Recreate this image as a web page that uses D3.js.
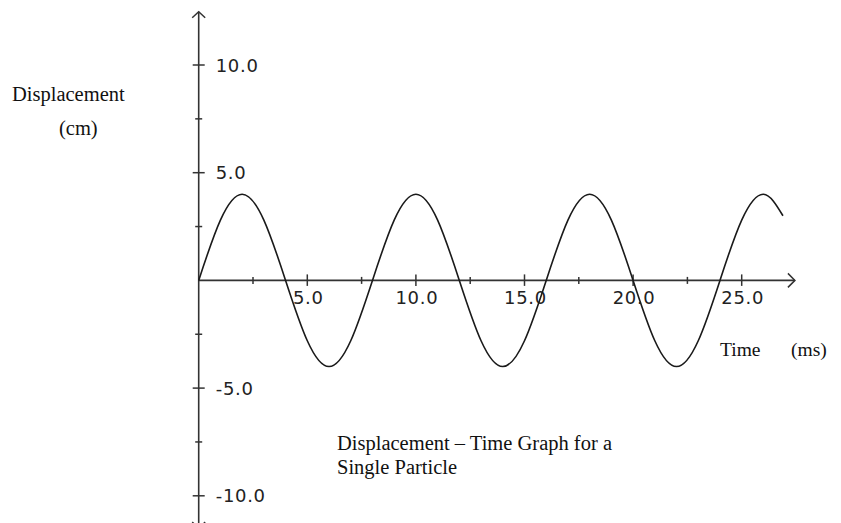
<!DOCTYPE html>
<html>
<head>
<meta charset="utf-8">
<script src="https://cdn.jsdelivr.net/npm/d3@7"></script>
<style>
  body { margin: 0; background: #fff; }
  .tick-label { font-family: "DejaVu Sans", sans-serif; font-size: 18px; letter-spacing: 0.7px; fill: #222; }
  .serif { font-family: "Liberation Serif", "Times New Roman", serif; font-size: 20.5px; fill: #111; }
  .serif.small { font-size: 19.5px; }
</style>
</head>
<body>
<script>
// time (ms) and displacement (cm)
var times = [0, 1, 2, 3, 4, 5, 6, 7, 8, 9, 10, 11, 12, 13, 14, 15, 16, 17, 18, 19, 20, 21, 22, 23, 24, 25, 26, 26.9];
var displacement = [0, 2.8, 4.0, 2.8, 0, -2.8, -4.0, -2.8, 0, 2.8, 4.0, 2.8, 0, -2.8, -4.0, -2.8, 0, 2.8, 4.0, 2.8, 0, -2.8, -4.0, -2.8, 0, 2.8, 4.0, 3.0];

var xMajor = [5, 10, 15, 20, 25];
var xMinor = [2.5, 7.5, 12.5, 17.5, 22.5];
var yMajor = [10, 5, -5, -10];
var yMinor = [7.5, 2.5, -2.5, -7.5];

var width = 841, height = 523;

var svg = d3.select("body").append("svg")
    .attr("width", width)
    .attr("height", height);

var x = d3.scaleLinear().domain([0, 25]).range([198.7, 741.7]);
var y = d3.scaleLinear().domain([0, 10]).range([280.4, 65]);

var axisColor = "#333";

// y axis line + arrows
var g = svg.append("g");
g.append("line")
    .attr("x1", x(0)).attr("x2", x(0))
    .attr("y1", y(12.47)).attr("y2", y(-11.5))
    .attr("stroke", axisColor).attr("stroke-width", 1.6);
g.append("path")
    .attr("d", "M" + (x(0) - 6.5) + "," + (y(12.47) + 6) + "L" + x(0) + "," + y(12.47) + "L" + (x(0) + 6.5) + "," + (y(12.47) + 6))
    .attr("fill", "none").attr("stroke", axisColor).attr("stroke-width", 1.5);
g.append("path")
    .attr("d", "M" + (x(0) - 6.5) + "," + (y(-11.5) - 6) + "L" + x(0) + "," + y(-11.5) + "L" + (x(0) + 6.5) + "," + (y(-11.5) - 6))
    .attr("fill", "none").attr("stroke", axisColor).attr("stroke-width", 1.5);

// x axis line + arrow
g.append("line")
    .attr("x1", x(0)).attr("x2", x(27.45))
    .attr("y1", y(0)).attr("y2", y(0))
    .attr("stroke", axisColor).attr("stroke-width", 1.6);
g.append("path")
    .attr("d", "M" + (x(27.45) - 7) + "," + (y(0) - 7) + "L" + x(27.45) + "," + y(0) + "L" + (x(27.45) - 7) + "," + (y(0) + 7))
    .attr("fill", "none").attr("stroke", axisColor).attr("stroke-width", 1.5);

// x ticks
g.selectAll(".xmaj").data(xMajor).enter().append("line")
    .attr("x1", function(d) { return x(d); }).attr("x2", function(d) { return x(d); })
    .attr("y1", y(0) - 6).attr("y2", y(0) + 5.5)
    .attr("stroke", axisColor).attr("stroke-width", 1.5);
g.selectAll(".xmin").data(xMinor).enter().append("line")
    .attr("x1", function(d) { return x(d); }).attr("x2", function(d) { return x(d); })
    .attr("y1", y(0) - 3.5).attr("y2", y(0) + 3.5)
    .attr("stroke", axisColor).attr("stroke-width", 1.5);
g.selectAll(".xlab").data(xMajor).enter().append("text")
    .attr("class", "tick-label")
    .attr("x", function(d) { return x(d) + 1; })
    .attr("y", y(0) + 24)
    .attr("text-anchor", "middle")
    .text(function(d) { return d3.format(".1f")(d); });

// y ticks
g.selectAll(".ymaj").data(yMajor).enter().append("line")
    .attr("x1", x(0) - 6).attr("x2", x(0) + 6)
    .attr("y1", function(d) { return y(d); }).attr("y2", function(d) { return y(d); })
    .attr("stroke", axisColor).attr("stroke-width", 1.5);
g.selectAll(".ymin").data(yMinor).enter().append("line")
    .attr("x1", x(0) - 3.5).attr("x2", x(0) + 3.5)
    .attr("y1", function(d) { return y(d); }).attr("y2", function(d) { return y(d); })
    .attr("stroke", axisColor).attr("stroke-width", 1.5);
g.selectAll(".ylab").data(yMajor).enter().append("text")
    .attr("class", "tick-label")
    .attr("x", x(0) + 17)
    .attr("y", function(d) { return y(d) + 6.5; })
    .text(function(d) { return (d < 0 ? "-" : "") + d3.format(".1f")(Math.abs(d)); });

// the wave
var line = d3.line()
    .x(function(d) { return x(d[0]); })
    .y(function(d) { return y(d[1]); })
    .curve(d3.curveNatural);

svg.append("path")
    .attr("d", line(d3.zip(times, displacement)))
    .attr("fill", "none")
    .attr("stroke", "#1a1a1a")
    .attr("stroke-width", 1.6);

// labels
svg.append("text").attr("class", "serif").attr("x", 12).attr("y", 101).text("Displacement");
svg.append("text").attr("class", "serif").attr("x", 59).attr("y", 135).text("(cm)");
svg.append("text").attr("class", "serif small").attr("x", 720).attr("y", 356).text("Time");
svg.append("text").attr("class", "serif small").attr("x", 791).attr("y", 356).text("(ms)");
svg.append("text").attr("class", "serif").attr("x", 337).attr("y", 450).text("Displacement \u2013 Time Graph for a");
svg.append("text").attr("class", "serif").attr("x", 337).attr("y", 474).text("Single Particle");
</script>
</body>
</html>
